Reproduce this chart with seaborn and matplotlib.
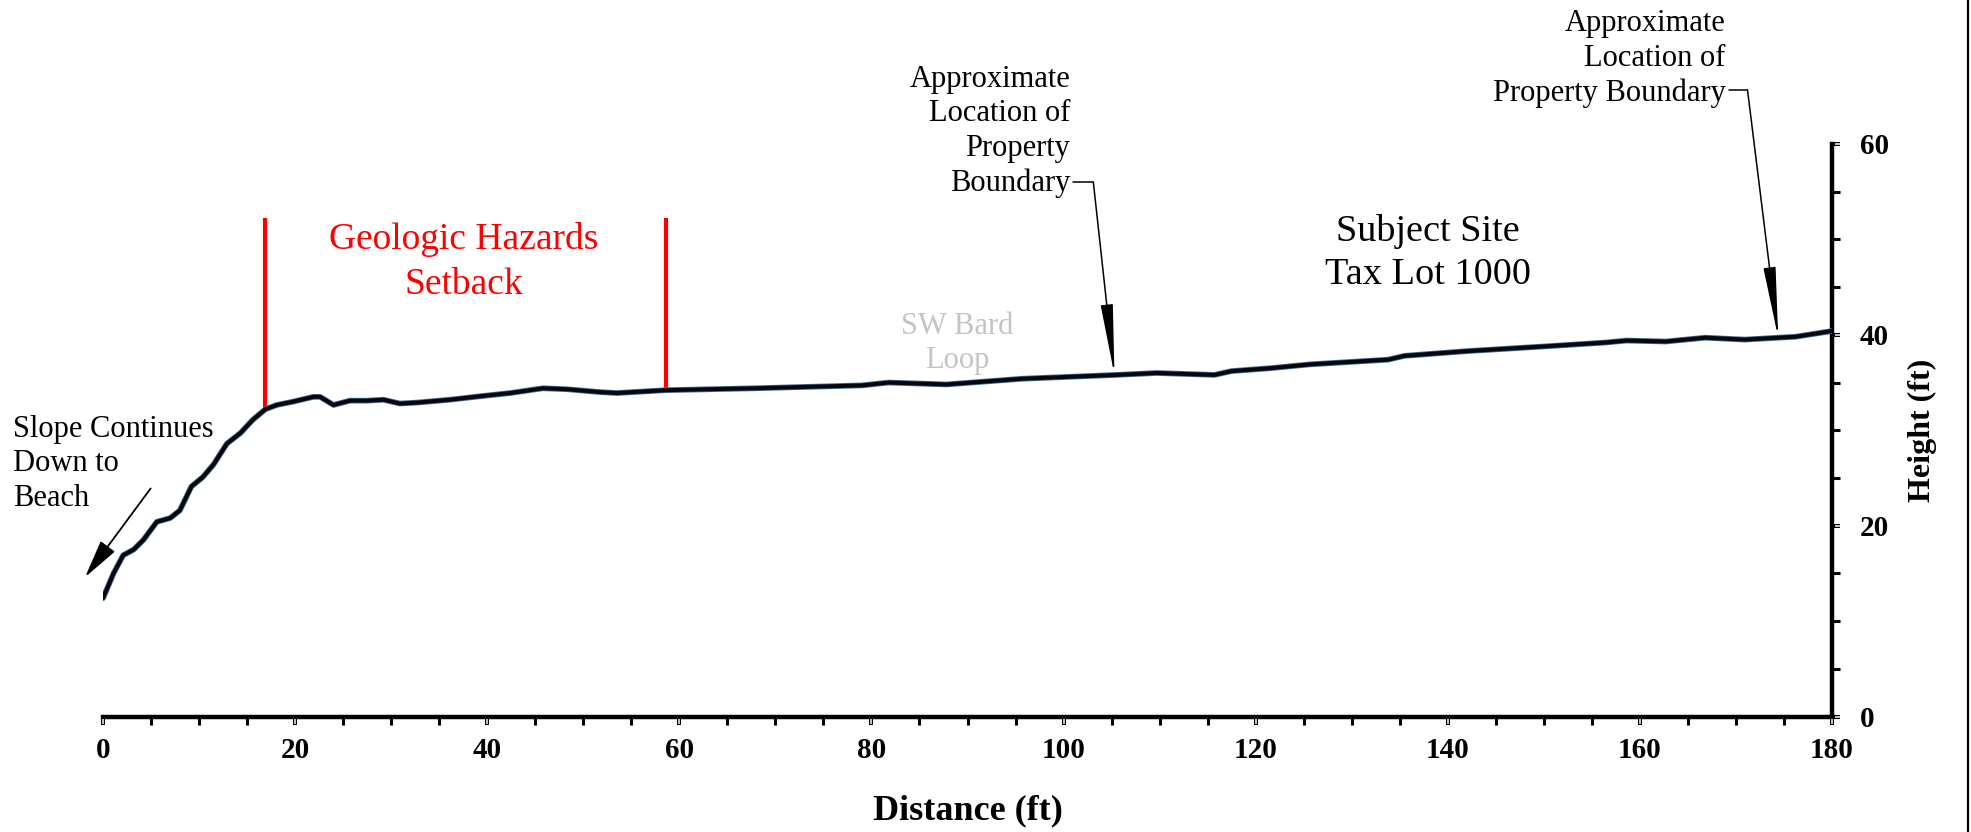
import numpy as np
import pandas as pd
import matplotlib
matplotlib.use("Agg")
import matplotlib.pyplot as plt
import matplotlib.patheffects as pe
from matplotlib.lines import Line2D
from matplotlib.ticker import MultipleLocator
import seaborn as sns

distance_ft = [0, 1.1, 2.1, 3.2, 4.2, 5.6, 7.0, 8.0, 9.2, 10.4,
               11.5, 12.9, 14.3, 15.6, 16.9, 18.1, 19.8, 21.9, 22.6, 24.0,
               25.7, 27.5, 29.2, 30.9, 32.7, 36.1, 39.6, 42.4, 45.8, 48.3,
               51.7, 53.5, 58.6, 67.9, 79.0, 81.8, 87.8, 95.7, 105.5, 109.7,
               115.7, 117.5, 121.5, 125.6, 133.8, 135.5, 142.1, 150.3, 156.5, 158.6,
               162.7, 166.8, 170.9, 174.4, 176.2, 180]
height_ft = [12.4, 15.0, 16.9, 17.5, 18.5, 20.4, 20.8, 21.6, 24.1, 25.1,
             26.4, 28.6, 29.7, 31.1, 32.2, 32.65, 33.0, 33.5, 33.5, 32.65,
             33.1, 33.1, 33.2, 32.8, 32.9, 33.2, 33.6, 33.9, 34.4, 34.3,
             34.0, 33.9, 34.2, 34.4, 34.7, 35.0, 34.8, 35.4, 35.8, 36.0,
             35.8, 36.2, 36.5, 36.9, 37.4, 37.8, 38.3, 38.8, 39.2, 39.4,
             39.3, 39.7, 39.5, 39.7, 39.8, 40.4]
setback_x = [16.9, 58.6]
setback_top = 52.2
boundary_x = [105.3, 174.4]
x_major_ticks = [0, 20, 40, 60, 80, 100, 120, 140, 160, 180]
y_major_ticks = [0, 20, 40, 60]

sns.set_theme(style="white")
plt.rcParams["font.family"] = ["Liberation Serif", "DejaVu Serif"]
for k in ["text.color", "axes.labelcolor", "xtick.color", "ytick.color", "axes.edgecolor"]:
    plt.rcParams[k] = "black"

W, H = 1971, 832
pos = [103 / W, 1 - 716.5 / H, (1832 - 103) / W, (716.5 - 144) / H]

fig = plt.figure(figsize=(W / 100, H / 100), dpi=100)
ax = fig.add_axes(pos)

df = pd.DataFrame({"Distance (ft)": distance_ft, "Height (ft)": height_ft})
sns.lineplot(data=df, x="Distance (ft)", y="Height (ft)", ax=ax, sort=False,
             color="#05070d", lw=2.9, solid_joinstyle="round", solid_capstyle="round",
             path_effects=[pe.Stroke(linewidth=4.1, foreground="#3f6b99"), pe.Normal()],
             zorder=3)

# setback lines
sb_bottom = np.interp(setback_x, distance_ft, height_ft)
ax.vlines(setback_x, sb_bottom, setback_top, colors="#ff0000", lw=3, zorder=2)

ax.set_xlim(0, 180)
ax.set_ylim(0, 60)
for s in ["left", "top"]:
    ax.spines[s].set_visible(False)
for s in ["bottom", "right"]:
    ax.spines[s].set_linewidth(3.2)
    ax.spines[s].set_color("black")

ax.yaxis.tick_right()
ax.yaxis.set_label_position("right")
ax.set_xticks(x_major_ticks, labels=[str(v) for v in x_major_ticks], fontweight="bold", fontsize=21)
ax.set_yticks(y_major_ticks, labels=[str(v) for v in y_major_ticks], fontweight="bold", fontsize=21)
ax.xaxis.set_minor_locator(MultipleLocator(5))
ax.yaxis.set_minor_locator(MultipleLocator(5))
ax.tick_params(which="both", direction="out", length=6, color="black",
               bottom=True, top=False, left=False, right=True)
ax.tick_params(which="minor", width=2.2)
ax.tick_params(which="major", width=2.9)
ax.tick_params(axis="x", which="major", pad=9)
ax.tick_params(axis="y", which="major", pad=14)
ax.grid(False)

ax.set_xlabel("Distance (ft)", fontsize=26, fontweight="bold", va="center")
ax.xaxis.set_label_coords(0.5, -0.165)
ax.set_ylabel("Height (ft)", fontsize=23, fontweight="bold", rotation=90, va="center", ha="center")
ax.yaxis.set_label_coords(1.0526, 0.5)

# hollow look of the major ticks (white inner strokes, offset past the spine)
for dx, dy, side in [(0, -2.6, "x"), (2.6, 0, "y")]:
    ov = fig.add_axes([pos[0] + dx / W, pos[1] + dy / H, pos[2], pos[3]])
    ov.set_xlim(0, 180)
    ov.set_ylim(0, 60)
    ov.patch.set_visible(False)
    for s in ov.spines.values():
        s.set_visible(False)
    ov.set_xticks(x_major_ticks if side == "x" else [])
    ov.set_yticks(y_major_ticks if side == "y" else [])
    ov.yaxis.tick_right()
    ov.tick_params(which="major", direction="out", length=3.8, width=1.1, color="white",
                   labelbottom=False, labelright=False, labelleft=False,
                   bottom=(side == "x"), right=(side == "y"), left=False, top=False)
    ov.grid(False)

# annotations
ax.text(-9.34, 31.6, "Slope Continues\nDown to\nBeach", ha="left", va="top",
        fontsize=22, linespacing=1.25)
ax.annotate("", xy=(-1.87, 14.6), xytext=(4.96, 23.9),
            arrowprops=dict(arrowstyle="-|>,head_length=2.4,head_width=0.55", mutation_scale=10,
                            lw=1.3, color="black", shrinkA=0, shrinkB=0),
            annotation_clip=False)

ax.text(37.6, 51.8, "Geologic Hazards\nSetback", color="#ff0000", ha="center", va="top",
        fontsize=27, linespacing=1.4)
ax.text(137.9, 52.7, "Subject Site\nTax Lot 1000", ha="center", va="top",
        fontsize=27.5, linespacing=1.33)
ax.text(88.9, 39.1, "SW Bard\nLoop", color="#c4c4c4", ha="center", va="center",
        fontsize=22, linespacing=1.25)

# left boundary
ax.text(100.7, 68.3, "Approximate\nLocation of\nProperty\nBoundary", ha="right", va="top",
        multialignment="right", fontsize=22, linespacing=1.25)
ax.plot([101.0, 103.1], [56.0, 56.0], color="black", lw=1.1, clip_on=False)
tip_l = np.interp(boundary_x[0], distance_ft, height_ft)
ax.annotate("", xy=(boundary_x[0], tip_l), xytext=(103.1, 56.0),
            arrowprops=dict(arrowstyle="-|>,head_length=4.4,head_width=0.38", mutation_scale=10,
                            lw=1.1, color="black", shrinkA=0, shrinkB=0),
            annotation_clip=False)

# right boundary
ax.text(168.9, 74.1, "Approximate\nLocation of\nProperty Boundary", ha="right", va="top",
        multialignment="right", fontsize=22, linespacing=1.25)
ax.plot([169.3, 171.2], [65.7, 65.7], color="black", lw=1.1, clip_on=False)
tip_r = np.interp(boundary_x[1], distance_ft, height_ft)
ax.annotate("", xy=(boundary_x[1], tip_r), xytext=(171.2, 65.7),
            arrowprops=dict(arrowstyle="-|>,head_length=4.4,head_width=0.38", mutation_scale=10,
                            lw=1.1, color="black", shrinkA=0, shrinkB=0),
            annotation_clip=False)

# right border line of the figure
fig.add_artist(Line2D([0.9985, 0.9985], [0, 1], transform=fig.transFigure, color="black", lw=1.6))

fig.savefig("out.png", dpi=100)
